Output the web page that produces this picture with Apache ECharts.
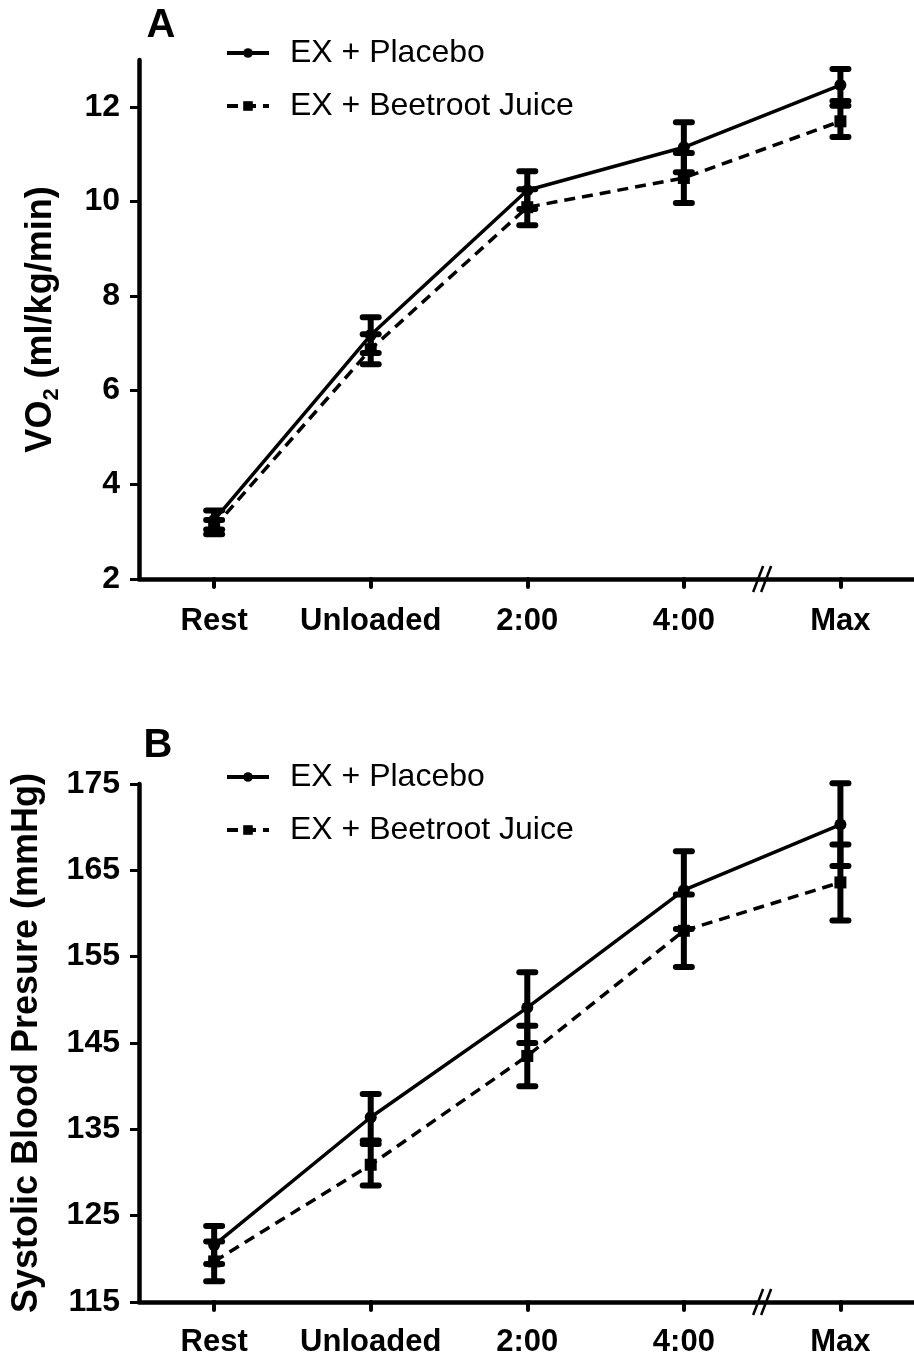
<!DOCTYPE html>
<html>
<head>
<meta charset="utf-8">
<script src="https://cdn.jsdelivr.net/npm/echarts@6/dist/echarts.min.js"></script>
<style>
html,body{margin:0;padding:0;background:#fff;}
#chart{width:914px;height:1359px;}
</style>
</head>
<body>
<div id="chart"></div>
<script>
// ---- data ----
const categories = ['Rest', 'Unloaded', '2:00', '4:00', 'Max'];
const catIndex = [0, 1, 2, 3, 4];
const seriesNames = ['EX + Placebo', 'EX + Beetroot Juice'];

const vo2Placebo   = [3.25, 7.17, 10.24, 11.15, 12.47];
const vo2PlaceboSE = [0.20, 0.38, 0.40, 0.53, 0.34];
const vo2Beet      = [3.10, 6.87, 9.88, 10.50, 11.70];
const vo2BeetSE    = [0.15, 0.32, 0.38, 0.53, 0.33];

const sbpPlacebo   = [121.6, 136.4, 149.1, 162.7, 170.3];
const sbpPlaceboSE = [2.2, 2.7, 4.1, 4.5, 4.8];
const sbpBeet      = [119.7, 130.9, 143.5, 158.0, 163.6];
const sbpBeetSE    = [2.3, 2.4, 3.5, 4.2, 4.4];

const vo2Ticks = [2, 4, 6, 8, 10, 12];
const sbpTicks = [115, 125, 135, 145, 155, 165, 175];
const axisBreakAt = 3.5;

// ---- helpers ----
const FONT = "'Liberation Sans', Arial, sans-serif";
const pts = (vals) => vals.map((v, i) => [catIndex[i], v]);
const errs = (vals, se) => vals.map((v, i) => [catIndex[i], v - se[i], v + se[i]]);

function errRender(params, api) {
  const x = api.value(0), lo = api.value(1), hi = api.value(2);
  const pHi = api.coord([x, hi]);
  const pLo = api.coord([x, lo]);
  const hw = 8;
  const st = { stroke: '#000', lineWidth: 6, lineCap: 'round' };
  return {
    type: 'group',
    children: [
      { type: 'line', shape: { x1: pHi[0], y1: pHi[1], x2: pLo[0], y2: pLo[1] }, style: { stroke: '#000', lineWidth: 6 } },
      { type: 'line', shape: { x1: pHi[0] - hw, y1: pHi[1], x2: pHi[0] + hw, y2: pHi[1] }, style: st },
      { type: 'line', shape: { x1: pLo[0] - hw, y1: pLo[1], x2: pLo[0] + hw, y2: pLo[1] }, style: st }
    ]
  };
}

function breakRender(params, api) {
  const p = api.coord([api.value(0), api.value(1)]);
  const st = { stroke: '#000', lineWidth: 2.5 };
  const mk = (cx) => ({ type: 'line', shape: { x1: cx - 5, y1: p[1] + 13, x2: cx + 5, y2: p[1] - 13 }, style: st });
  return { type: 'group', children: [mk(p[0] - 4), mk(p[0] + 4)] };
}

function xAxisDef(gridIndex, margin) {
  return {
    type: 'value', gridIndex, min: -0.48, max: 4.47,
    axisLine: { show: true, onZero: false, lineStyle: { color: '#000', width: 4.5 } },
    axisTick: { show: true, customValues: catIndex, length: 8, lineStyle: { color: '#000', width: 4, cap: 'round' } },
    axisLabel: { customValues: catIndex, formatter: (v) => categories[Math.round(v)], margin,
      color: '#000', fontSize: 31, fontWeight: 'bold', fontFamily: FONT },
    splitLine: { show: false }
  };
}

function yAxisDef(gridIndex, min, max, ticks, name, nameGap, rich) {
  return {
    type: 'value', gridIndex, min, max,
    name, nameLocation: 'middle', nameGap, nameRotate: 90,
    nameTextStyle: rich ? { rich } : { color: '#000', fontSize: 36, fontWeight: 'bold', fontFamily: FONT },
    axisLine: { show: true, onZero: false, lineStyle: { color: '#000', width: 4.5 } },
    axisTick: { show: true, customValues: ticks, length: 9, lineStyle: { color: '#000', width: 3 } },
    axisLabel: { customValues: ticks, margin: 19, color: '#000', fontSize: 32, fontWeight: 'bold', fontFamily: FONT },
    splitLine: { show: false }
  };
}

function lineSeries(name, data, axisIdx, dashed) {
  return {
    type: 'line', name, data, xAxisIndex: axisIdx, yAxisIndex: axisIdx,
    symbol: dashed ? 'rect' : 'circle', symbolSize: 12,
    lineStyle: { color: '#000', width: 3.5, type: dashed ? [11, 7] : 'solid' },
    itemStyle: { color: '#000' },
    z: 5, animation: false
  };
}

function errSeries(data, axisIdx) {
  return { type: 'custom', data, xAxisIndex: axisIdx, yAxisIndex: axisIdx, renderItem: errRender, z: 3, animation: false, silent: true };
}

function breakSeries(ymin, axisIdx) {
  return { type: 'custom', data: [[axisBreakAt, ymin]], xAxisIndex: axisIdx, yAxisIndex: axisIdx, renderItem: breakRender, z: 6, animation: false, silent: true, clip: false };
}

const legendBase = {
  data: seriesNames, orient: 'vertical', left: 220, itemWidth: 42, itemHeight: 12, itemGap: 21,
  lineStyle: { width: 4 },
  textStyle: { color: '#000', fontSize: 32, fontFamily: FONT, lineHeight: 32, padding: [0, 0, 0, 16] },
  selectedMode: false
};

const option = {
  backgroundColor: '#fff',
  animation: false,
  grid: [
    { left: 139, right: 0, top: 60, bottom: 780, containLabel: false },
    { left: 139, right: 0, top: 784, bottom: 57, containLabel: false }
  ],
  xAxis: [xAxisDef(0, 27), xAxisDef(1, 25)],
  yAxis: [
    yAxisDef(0, 2, 13, vo2Ticks, '{a|VO}{s|2}{a| (ml/kg/min)}', 76, {
      a: { color: '#000', fontSize: 36, fontWeight: 'bold', fontFamily: FONT, lineHeight: 44 },
      s: { color: '#000', fontSize: 22, fontWeight: 'bold', fontFamily: FONT, lineHeight: 28, verticalAlign: 'bottom' }
    }),
    yAxisDef(1, 115, 175, sbpTicks, 'Systolic Blood Presure (mmHg)', 94, null)
  ],
  legend: [
    Object.assign({}, legendBase, { top: 32 }),
    Object.assign({}, legendBase, { top: 756 })
  ],
  graphic: [
    { type: 'text', x: 161, y: 26, style: { text: 'A', font: 'bold 40px ' + FONT, fill: '#000', align: 'center', verticalAlign: 'middle' } },
    { type: 'text', x: 158, y: 746, style: { text: 'B', font: 'bold 40px ' + FONT, fill: '#000', align: 'center', verticalAlign: 'middle' } }
  ],
  series: [
    errSeries(errs(vo2Placebo, vo2PlaceboSE), 0),
    errSeries(errs(vo2Beet, vo2BeetSE), 0),
    lineSeries(seriesNames[0], pts(vo2Placebo), 0, false),
    lineSeries(seriesNames[1], pts(vo2Beet), 0, true),
    breakSeries(2, 0),
    errSeries(errs(sbpPlacebo, sbpPlaceboSE), 1),
    errSeries(errs(sbpBeet, sbpBeetSE), 1),
    lineSeries(seriesNames[0], pts(sbpPlacebo), 1, false),
    lineSeries(seriesNames[1], pts(sbpBeet), 1, true),
    breakSeries(115, 1)
  ]
};

const chart = echarts.init(document.getElementById('chart'), null, { renderer: 'canvas' });
chart.setOption(option);
</script>
</body>
</html>
